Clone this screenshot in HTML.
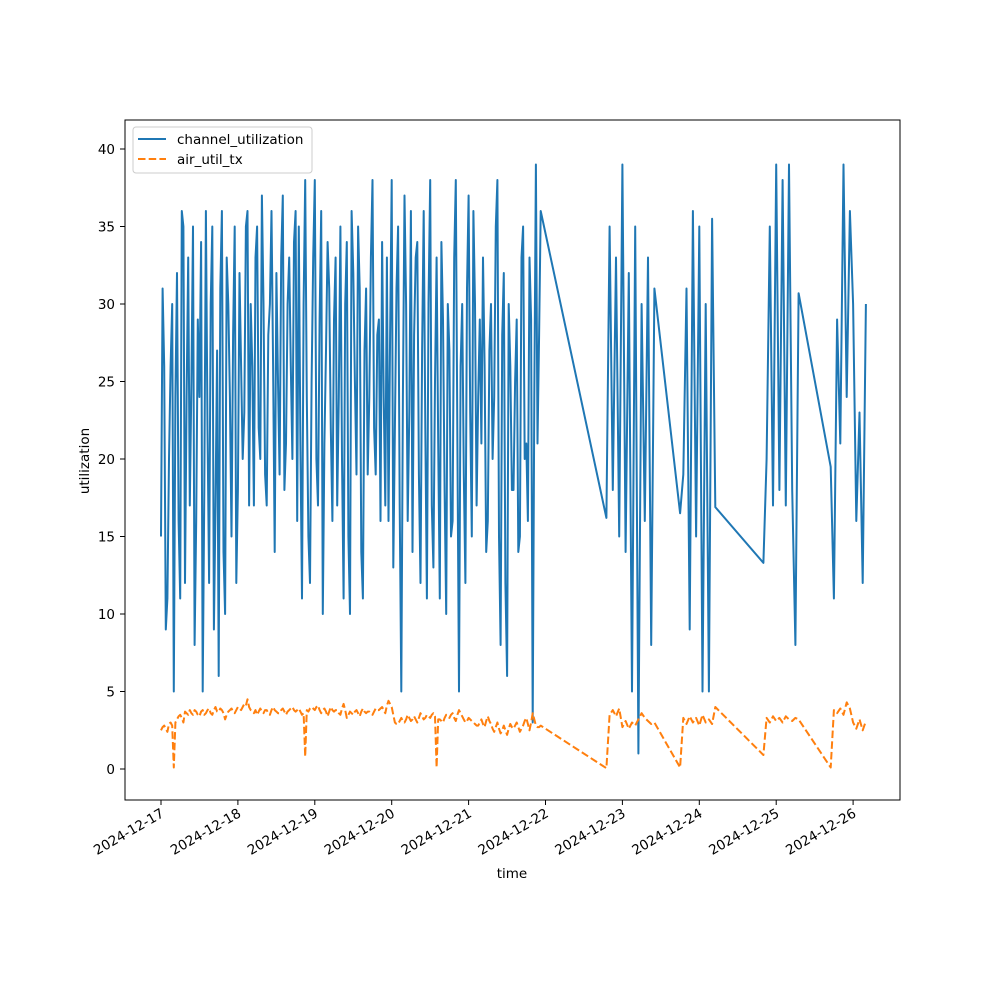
<!DOCTYPE html>
<html><head><meta charset="utf-8"><style>
html,body{margin:0;padding:0;background:#fff;}
svg{display:block;font-family:"DejaVu Sans","Liberation Sans",sans-serif;}
</style></head><body>
<svg id="chart" width="1000" height="1000" viewBox="0 0 1000 1000">
<rect x="0" y="0" width="1000" height="1000" fill="#fff"/>
<g id="lines"></g>
<rect x="125" y="120" width="775" height="680" fill="none" stroke="#000" stroke-width="1"/>
<g id="xaxis"></g>
<g id="yaxis"></g>
<text x="512" y="878" font-size="13.5" text-anchor="middle">time</text>
<text x="89" y="461" font-size="13.5" text-anchor="middle" transform="rotate(-90 89 461)">utilization</text>
<g>
<rect x="133" y="127" width="179" height="46" rx="3" fill="#fff" fill-opacity="0.8" stroke="#ccc"/>
<line x1="138" y1="139" x2="166" y2="139" stroke="#1f77b4" stroke-width="2"/>
<text x="177" y="144" font-size="13.5">channel_utilization</text>
<line x1="138" y1="159" x2="166" y2="159" stroke="#ff7f0e" stroke-width="2" stroke-dasharray="7.5,3.2"/>
<text x="177" y="164" font-size="13.5">air_util_tx</text>
</g>
</svg>
<script>
const xTickLabels = ["2024-12-17","2024-12-18","2024-12-19","2024-12-20","2024-12-21","2024-12-22","2024-12-23","2024-12-24","2024-12-25","2024-12-26"];
const yTickValues = [0,5,10,15,20,25,30,35,40];
const hoursTail = [139,140,141,142,143,144,145,146,147,148,149,150,151,152,153,154,162,163,164,165,166,167,168,169,170,171,172,173,188,189,190,191,192,193,194,195,196,197,198,199,209,210,211,212,213,214,215,216,217,218,219,220];
const channelOnHour = [
15,26,11,26,5,32,11,35,24,17,
35,16,24,5,36,12,35,17,6,36,
10,30,15,35,18,26,23,36,30,17,
35,20,30,17,30,26,32,19,37,21,
33,20,36,35,11,38,15,25,38,17,
36,21,34,22,29,17,35,11,34,10,
32,19,31,11,31,24,38,19,29,34,
17,16,38,22,35,5,37,16,36,28,
34,12,36,11,38,13,33,11,29,10,
27,16,38,5,30,12,37,15,30,24,
21,26,16,30,24,38,8,32,6,26,
18,29,15,35,21,33,3,39,28];
const channelHalfHour = [
31,9,20,30,24,16,36,12,33,25,
8,29,34,18,22,30,9,27,31,14,
33,24,28,12,32,20,35,17,26,33,
22,37,19,28,36,14,25,33,18,30,
26,34,16,21,30,24,12,33,20,29,
10,27,31,16,33,24,20,30,15,36,
25,35,14,27,19,33,22,28,16,24,
33,28,13,31,17,24,30,23,14,33,
19,27,22,30,17,25,21,34,18,30,
15,33,21,26,19,31,23,36,17,29,
33,14,27,20,35,15,28,12,30,18,
25,14,33,20,16,29,24,21,36];
const channelTail = [
16.2,35,18,33,15,39,14,32,5,35,1,30,16,33,8,31,16.5,
19,31,9,36,15,35,5,30,5,35.5,16.9,13.3,
20,35,17,39,18,38,17,39,18,8,30.7,19.5,
11,29,21,39,24,36,30,16,23,12,30];
const airOnHour = [
2.5,2.8,2.4,3.0,0.1,3.2,3.5,3.0,3.6,3.8,
3.5,3.7,3.4,3.8,3.6,3.9,3.5,4.0,3.7,3.8,
3.2,3.7,3.9,3.6,4.0,3.8,4.2,4.5,3.8,3.6,
3.5,3.9,3.6,3.8,3.5,4.0,3.7,3.6,3.9,3.5,
3.8,4.0,3.7,3.9,3.5,0.8,3.7,4.0,3.8,4.1,
3.6,3.9,3.4,4.0,3.7,3.8,3.5,4.2,3.3,3.7,
3.5,3.8,3.4,3.9,3.6,3.7,3.5,3.9,3.8,4.0,
3.6,4.4,4.0,3.0,2.9,3.3,3.0,3.5,3.1,3.4,
3.0,3.6,3.2,3.5,3.3,3.6,0.1,3.2,3.0,3.5,
3.3,3.6,3.1,3.8,3.4,3.0,3.3,3.1,2.9,2.8,
3.2,2.7,3.4,2.9,2.4,3.0,2.3,2.8,2.2,2.9,
2.6,3.0,2.4,2.8,3.3,2.5,3.6,2.8,2.7];
const airHalfHour = [
2.7,2.6,2.9,2.8,3.0,3.4,3.3,3.7,3.5,3.6,
3.8,3.5,3.7,3.5,3.8,3.6,3.8,3.7,3.9,3.6,
3.5,3.8,3.7,3.8,3.9,4.0,4.1,4.0,3.7,3.8,
3.7,3.7,3.8,3.6,3.8,3.8,3.6,3.8,3.7,3.7,
3.9,3.8,3.8,3.7,3.6,3.8,3.9,3.9,4.0,3.8,
3.8,3.7,3.7,3.8,3.8,3.6,3.9,3.8,3.5,3.6,
3.7,3.6,3.7,3.7,3.7,3.6,3.7,3.8,3.9,3.8,
4.1,4.2,3.5,2.9,3.1,3.1,3.2,3.3,3.2,3.2,
3.3,3.4,3.3,3.4,3.5,3.4,3.2,3.1,3.3,3.4,
3.5,3.3,3.5,3.6,3.2,3.1,3.2,3.0,2.8,3.0,
2.9,3.1,3.1,2.6,2.7,2.6,2.5,2.5,2.6,2.7,
2.8,2.7,2.6,3.1,2.9,3.0,3.2,2.7,2.8];
const airTail = [
0.05,3.5,3.8,3.4,3.9,2.7,3.1,2.6,3.0,2.8,3.2,3.6,3.3,3.1,2.9,3.0,0.1,
3.3,2.9,3.4,3.0,3.3,2.8,3.5,3.0,3.2,2.9,4.0,0.9,
3.3,3.0,3.4,3.1,3.3,3.0,3.4,3.2,3.1,3.3,3.2,0.1,
3.8,3.6,3.9,3.5,4.3,3.9,3.0,2.6,3.2,2.5,3.1];

const times = [], channelUtil = [], airUtil = [];
for (let h = 0; h <= 118; h++) {
  times.push(h, h + 0.5);
  channelUtil.push(channelOnHour[h], channelHalfHour[h]);
  airUtil.push(airOnHour[h], airHalfHour[h]);
}
hoursTail.forEach((t, i) => { times.push(t); channelUtil.push(channelTail[i]); airUtil.push(airTail[i]); });

const NS = "http://www.w3.org/2000/svg";
const xScale = h => 161 + h / 24 * 76.9;
const yScale = v => 769 - v * 15.5;

function mkLine(vals, color, dash, name) {
  const p = document.createElementNS(NS, "polyline");
  p.setAttribute("points", times.map((t, i) => xScale(t).toFixed(1) + "," + yScale(vals[i]).toFixed(1)).join(" "));
  p.setAttribute("fill", "none");
  p.setAttribute("stroke", color);
  p.setAttribute("stroke-width", "2");
  p.setAttribute("stroke-linejoin", "round");
  if (dash) p.setAttribute("stroke-dasharray", dash);
  
  
  document.getElementById("lines").appendChild(p);
}
mkLine(channelUtil, "#1f77b4", null, "channel-utilization-line");
mkLine(airUtil, "#ff7f0e", "7.5,3.2", "air-util-tx-line");

const xa = document.getElementById("xaxis");
xTickLabels.forEach((lab, i) => {
  const x = xScale(i * 24);
  const l = document.createElementNS(NS, "line");
  l.setAttribute("x1", x); l.setAttribute("x2", x);
  l.setAttribute("y1", 800); l.setAttribute("y2", 805);
  l.setAttribute("stroke", "#000");
  
  
  xa.appendChild(l);
  const t = document.createElementNS(NS, "text");
  t.setAttribute("x", x + 4); t.setAttribute("y", 816);
  t.setAttribute("font-size", "13.5");
  t.setAttribute("text-anchor", "end");
  t.setAttribute("transform", "rotate(-30 " + (x + 4) + " 816)");
  t.textContent = lab;
  
  
  xa.appendChild(t);
});
const ya = document.getElementById("yaxis");
yTickValues.forEach(v => {
  const y = yScale(v);
  const l = document.createElementNS(NS, "line");
  l.setAttribute("x1", 120); l.setAttribute("x2", 125);
  l.setAttribute("y1", y); l.setAttribute("y2", y);
  l.setAttribute("stroke", "#000");
  
  
  ya.appendChild(l);
  const t = document.createElementNS(NS, "text");
  t.setAttribute("x", 115); t.setAttribute("y", y + 5);
  t.setAttribute("font-size", "13.5");
  t.setAttribute("text-anchor", "end");
  t.textContent = v;
  
  
  ya.appendChild(t);
});
</script>
</body></html>
